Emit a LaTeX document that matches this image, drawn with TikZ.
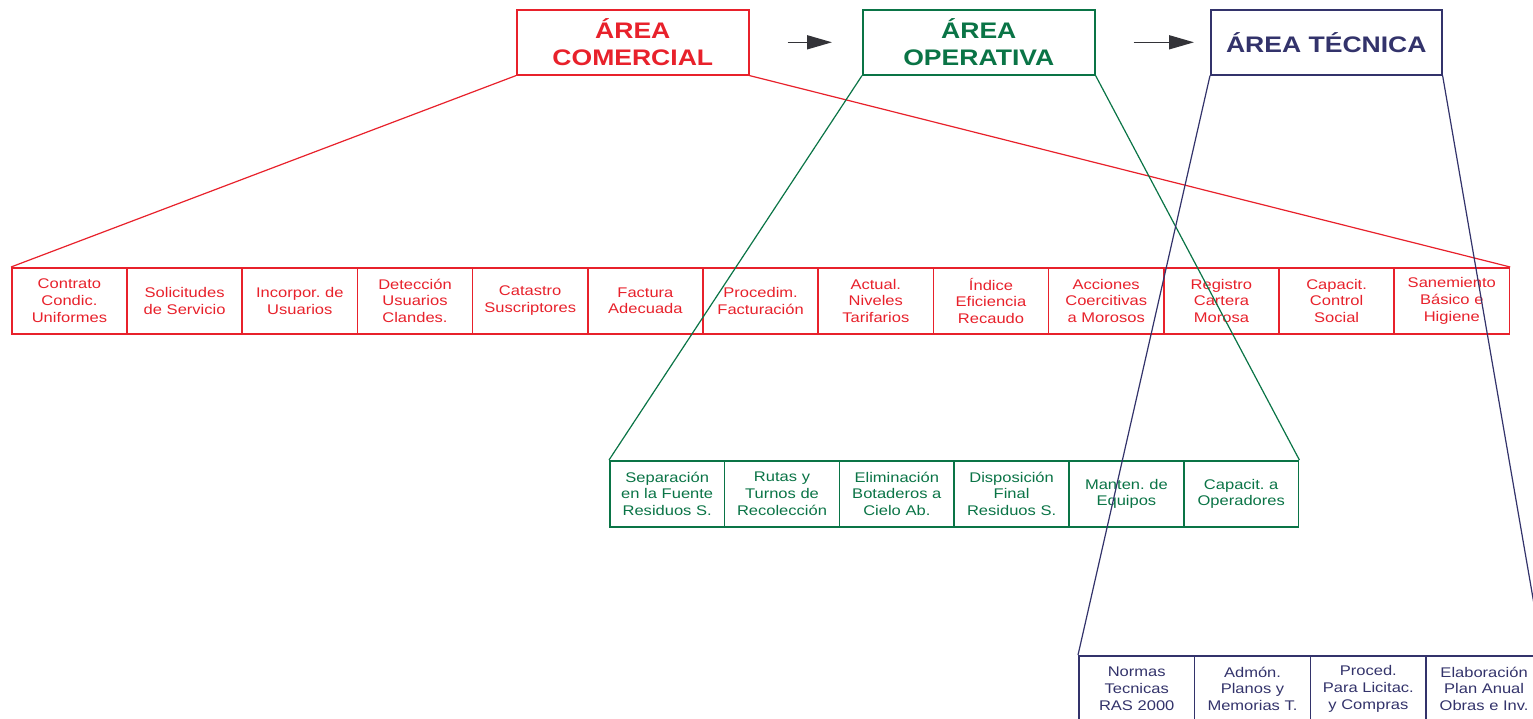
\documentclass[tikz,border=0pt]{standalone}
\usepackage{fontspec}
\setmainfont{Liberation Sans}[FakeStretch=1.18]
\usetikzlibrary{arrows.meta}
\definecolor{comred}{HTML}{E8212B}
\definecolor{opgreen}{HTML}{0A7446}
\definecolor{tecblue}{HTML}{33336B}
\definecolor{arrowgray}{HTML}{333338}
\tikzset{
  areabox/.style={draw, line width=1.6pt, minimum width=232pt, minimum height=65pt,
    inner sep=0pt, anchor=north west, align=center,
    font=\fontsize{22.5}{27}\selectfont\bfseries},
  cell/.style={draw, line width=1.6pt, minimum width=115.2pt, minimum height=66pt,
    inner sep=0pt, anchor=north west, align=center, text width=112pt,
    font=\fontsize{14}{16.7}\selectfont},
  fan/.style={line width=1.2pt},
  flow/.style={draw=arrowgray, line width=1.6pt, -{Triangle[length=25pt,width=14pt]}}
}
\frenchspacing
\begin{document}
\begin{tikzpicture}[x=1pt,y=-1pt]
\clip (0,0) rectangle (1533,718);
\fill[white] (0,0) rectangle (1533,718);

% area headers
\node[areabox, draw=comred, text=comred] (com) at (516,9) {ÁREA\\COMERCIAL};
\node[areabox, draw=opgreen, text=opgreen] (ope) at (862,9) {ÁREA\\OPERATIVA};
\node[areabox, draw=tecblue, text=tecblue, minimum width=231pt] (tec) at (1210,9) {ÁREA TÉCNICA};

\draw[flow] ([xshift=38pt]com.east) -- ([xshift=-30pt]ope.west);
\draw[flow] ([xshift=38pt]ope.east) -- ([xshift=-16pt]tec.west);

% commercial area tasks
\begin{scope}[every node/.append style={cell, draw=comred, text=comred}]
\node (c1)  at (11,267)     {Contrato\\Condic.\\Uniformes};
\node (c2)  at (126.2,267)  {Solicitudes\\de Servicio};
\node (c3)  at (241.4,267)  {Incorpor. de\\Usuarios};
\node (c4)  at (356.6,267)  {Detección\\Usuarios\\Clandes.};
\node (c5)  at (471.8,267)  {Catastro\\Suscriptores};
\node (c6)  at (587,267)    {Factura\\Adecuada};
\node (c7)  at (702.2,267)  {Procedim.\\Facturación};
\node (c8)  at (817.4,267)  {Actual.\\Niveles\\Tarifarios};
\node (c9)  at (932.6,267)  {Índice\\Eficiencia\\Recaudo};
\node (c10) at (1047.8,267) {Acciones\\Coercitivas\\a Morosos};
\node (c11) at (1163,267)   {Registro\\Cartera\\Morosa};
\node (c12) at (1278.2,267) {Capacit.\\Control\\Social};
\node (c13) at (1393.4,267) {Sanemiento\\Básico e\\Higiene};
\end{scope}
\draw[fan, comred] (com.south west) -- (c1.north west);
\draw[fan, comred] (com.south east) -- (c13.north east);

% operative area tasks
\begin{scope}[every node/.append style={cell, draw=opgreen, text=opgreen, minimum width=114.8pt}]
\node (g1) at (609,460)    {Separación\\en la Fuente\\Residuos S.};
\node (g2) at (723.8,460)  {Rutas y\\Turnos de\\Recolección};
\node (g3) at (838.6,460)  {Eliminación\\Botaderos a\\Cielo Ab.};
\node (g4) at (953.4,460)  {Disposición\\Final\\Residuos S.};
\node (g5) at (1068.2,460) {Manten. de\\Equipos};
\node (g6) at (1183,460)   {Capacit. a\\Operadores};
\end{scope}
\draw[fan, opgreen] (ope.south west) -- (g1.north west);
\draw[fan, opgreen] (ope.south east) -- (g6.north east);

% technical area tasks
\begin{scope}[every node/.append style={cell, draw=tecblue, text=tecblue, minimum width=115.8pt}]
\node (t1) at (1078,655)   {Normas\\Tecnicas\\RAS 2000};
\node (t2) at (1193.8,655) {Admón.\\Planos y\\Memorias T.};
\node (t3) at (1309.6,655) {Proced.\\Para Licitac.\\y Compras};
\node (t4) at (1425.4,655) {Elaboración\\Plan Anual\\Obras e Inv.};
\end{scope}
\draw[fan, tecblue] (tec.south west) -- (t1.north west);
\draw[fan, tecblue] (tec.south east) -- (t4.north east);
\end{tikzpicture}
\end{document}
